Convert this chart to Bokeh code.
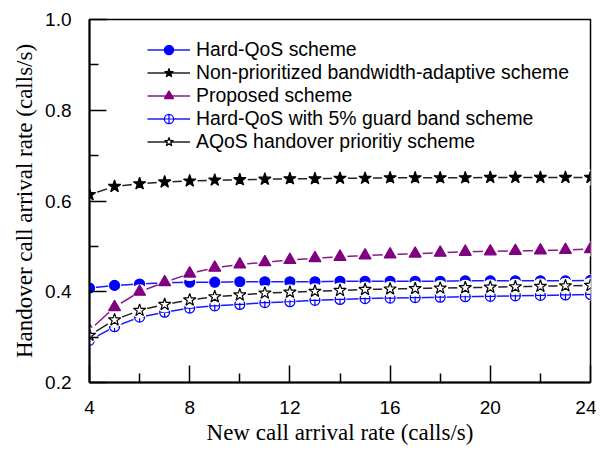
from bokeh.plotting import figure
from bokeh.models import FixedTicker, Legend, LegendItem, Range1d, PrintfTickFormatter
from bokeh.embed import file_html
from bokeh.resources import INLINE

# ---- data ----
x_rate = list(range(4, 25))
hard_qos = [0.408, 0.414, 0.417, 0.420, 0.421, 0.421, 0.422, 0.422, 0.422, 0.422, 0.423,
            0.423, 0.423, 0.423, 0.423, 0.424, 0.424, 0.424, 0.424, 0.424, 0.425]
non_prio = [0.614, 0.632, 0.638, 0.642, 0.644, 0.646, 0.647, 0.648, 0.649, 0.649, 0.650,
            0.650, 0.651, 0.651, 0.651, 0.651, 0.652, 0.652, 0.652, 0.652, 0.652]
proposed = [0.315, 0.366, 0.400, 0.421, 0.440, 0.453, 0.460, 0.465, 0.470, 0.474, 0.477,
            0.480, 0.482, 0.484, 0.486, 0.488, 0.489, 0.490, 0.491, 0.492, 0.494]
guard5 = [0.293, 0.323, 0.344, 0.355, 0.364, 0.369, 0.372, 0.376, 0.378, 0.381, 0.383,
          0.385, 0.386, 0.387, 0.388, 0.389, 0.390, 0.391, 0.392, 0.393, 0.394]
aqos = [0.304, 0.338, 0.359, 0.372, 0.382, 0.389, 0.393, 0.397, 0.399, 0.401, 0.403,
        0.405, 0.406, 0.407, 0.408, 0.409, 0.410, 0.411, 0.412, 0.413, 0.414]

series_labels = ["Hard-QoS scheme",
                 "Non-prioritized bandwidth-adaptive scheme",
                 "Proposed scheme",
                 "Hard-QoS with 5% guard band scheme",
                 "AQoS handover prioritiy scheme"]
x_ticks = [4, 8, 12, 16, 20, 24]
x_minor = [6, 10, 14, 18, 22]
y_ticks = [0.2, 0.4, 0.6, 0.8, 1.0]
y_minor = [0.3, 0.5, 0.7, 0.9]

p = figure(width=596, height=448, output_backend="svg", toolbar_location=None,
           x_range=Range1d(4, 24), y_range=Range1d(0.2, 1.0),
           min_border_left=89, min_border_right=6, min_border_top=19, min_border_bottom=66)
p.background_fill_color = "white"
p.border_fill_color = "white"
p.outline_line_color = "black"
p.outline_line_width = 1.5
p.xgrid.visible = False
p.ygrid.visible = False

for ax, tk, mn in ((p.xaxis[0], x_ticks, x_minor), (p.yaxis[0], y_ticks, y_minor)):
    ax.ticker = FixedTicker(ticks=tk, minor_ticks=mn)
    ax.major_tick_in = 17
    ax.major_tick_out = 0
    ax.minor_tick_in = 9
    ax.minor_tick_out = 0
    ax.axis_line_width = 2
    ax.major_tick_line_width = 1.5
    ax.minor_tick_line_width = 1.5
    ax.major_label_text_font = "Liberation Sans"
    ax.major_label_text_font_size = "19px"
    ax.major_label_text_color = "black"
    ax.axis_label_text_font = "Liberation Serif"
    ax.axis_label_text_font_style = "normal"
    ax.axis_label_text_font_size = "23px"
    ax.axis_label_text_color = "black"

p.yaxis[0].formatter = PrintfTickFormatter(format="%.1f")
p.xaxis.axis_label = "New call arrival rate (calls/s)"
p.yaxis.axis_label = "Handover call arrival rate (calls/s)"
p.xaxis.major_label_standoff = 18
p.yaxis.major_label_standoff = 18
p.xaxis.axis_label_standoff = 3
p.yaxis.axis_label_standoff = 5

styles = [
    (hard_qos, "#1a1aff", "circle", 10, "#0000ff", "#0000ff"),
    (non_prio, "#222222", "star", 13, "black", "black"),
    (proposed, "#8a1a8a", "triangle", 12, "#800080", "#800080"),
    (guard5, "#1a1aff", "circle_cross", 10, "#0000ff", "white"),
    (aqos, "#222222", "star", 13, "black", "white"),
]

items = []
for (vals, lc, mk, sz, mlc, mfc), lab in zip(styles, series_labels):
    r1 = p.line(x_rate, vals, line_color=lc, line_width=1.5)
    p.scatter(x_rate, vals, marker="circle", size=sz + 3, line_color=None,
              fill_color="white")
    r2 = p.scatter(x_rate, vals, marker=mk, size=sz, line_color=mlc, fill_color=mfc,
                   line_width=1.2)
    items.append(LegendItem(label=lab, renderers=[r1, r2]))

leg = Legend(items=items, location=(58, 229))
leg.border_line_color = None
leg.background_fill_alpha = 0
leg.padding = 0
leg.margin = 0
leg.spacing = 0
leg.glyph_width = 43
leg.glyph_height = 23
leg.label_height = 23
leg.label_standoff = 6
leg.label_text_font = "Liberation Sans"
leg.label_text_font_size = "19.4px"
leg.label_text_color = "black"
p.add_layout(leg)

open("out.html", "w").write(file_html(p, INLINE))
